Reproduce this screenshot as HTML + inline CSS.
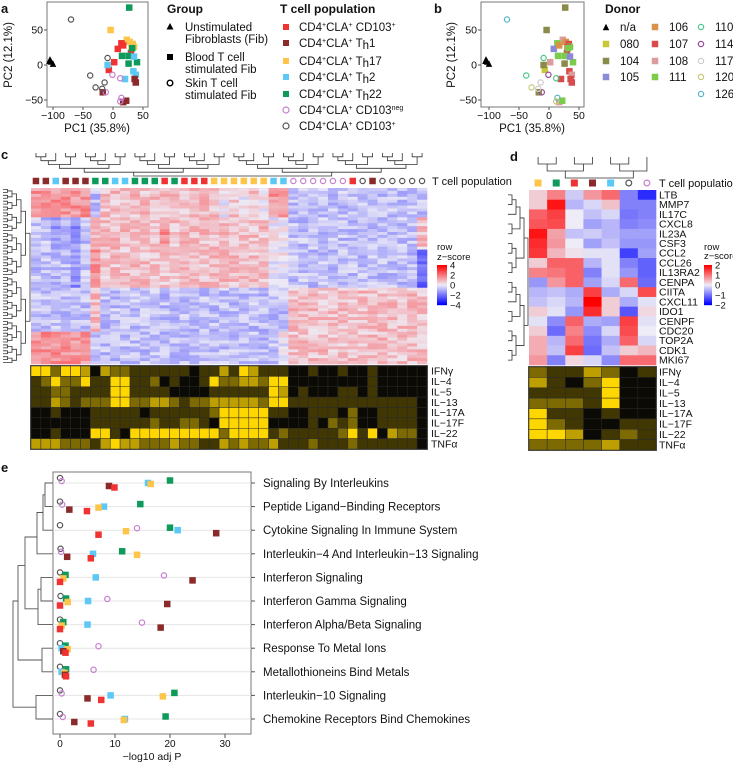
<!DOCTYPE html>
<html><head><meta charset="utf-8">
<style>
html,body{margin:0;padding:0;background:#fff;}
svg{display:block;font-family:"Liberation Sans",sans-serif;}
text{fill:#111;}
</style></head>
<body>
<svg id="fig" width="733" height="763" viewBox="0 0 733 763" xmlns="http://www.w3.org/2000/svg">
<text x="1" y="13" font-size="13" font-weight="bold">a</text>
<text x="434" y="13" font-size="13" font-weight="bold">b</text>
<text x="1" y="159" font-size="13" font-weight="bold">c</text>
<text x="510" y="161" font-size="13" font-weight="bold">d</text>
<text x="1" y="472" font-size="13" font-weight="bold">e</text>

<g id="pa">
<rect x="47" y="2" width="101" height="105" fill="none" stroke="#777" stroke-width="1"/>
<text x="12" y="55" font-size="11.5" text-anchor="middle" transform="rotate(-90 12 55)">PC2 (12.1%)</text>
<text x="97" y="132" font-size="11.5" text-anchor="middle">PC1 (35.8%)</text>
</g>
<g font-size="11.5">
<text x="167" y="13" font-size="12" font-weight="bold">Group</text>
<polygon points="170,23 166.5,29.5 173.5,29.5" fill="#000"/>
<text x="185" y="31">Unstimulated</text>
<text x="185" y="43">Fibroblasts (Fib)</text>
<rect x="167" y="54" width="6" height="6" fill="#000"/>
<text x="185" y="61">Blood T cell</text>
<text x="185" y="73">stimulated Fib</text>
<circle cx="170" cy="83" r="2.8" fill="none" stroke="#000" stroke-width="1.4"/>
<text x="185" y="87">Skin T cell</text>
<text x="185" y="99">stimulated Fib</text>
</g>
<g font-size="11.5">
<text x="280" y="13" font-size="12" font-weight="bold">T cell population</text>
<rect x="283" y="24" width="6" height="6" fill="#f03232"/>
<text x="299" y="31">CD4<tspan dy="-4" font-size="7">+</tspan><tspan dy="4">CLA</tspan><tspan dy="-4" font-size="7">+</tspan><tspan dy="4"> CD103</tspan><tspan dy="-4" font-size="7">+</tspan></text>
<rect x="283" y="40" width="6" height="6" fill="#8b2a2a"/>
<text x="299" y="47">CD4<tspan dy="-4" font-size="7">+</tspan><tspan dy="4">CLA</tspan><tspan dy="-4" font-size="7">+</tspan><tspan dy="4"> T</tspan><tspan dy="2">h</tspan><tspan dy="-2">1</tspan></text>
<rect x="283" y="58" width="6" height="6" fill="#ffc44a"/>
<text x="299" y="65">CD4<tspan dy="-4" font-size="7">+</tspan><tspan dy="4">CLA</tspan><tspan dy="-4" font-size="7">+</tspan><tspan dy="4"> T</tspan><tspan dy="2">h</tspan><tspan dy="-2">17</tspan></text>
<rect x="283" y="74" width="6" height="6" fill="#5bc8f5"/>
<text x="299" y="81">CD4<tspan dy="-4" font-size="7">+</tspan><tspan dy="4">CLA</tspan><tspan dy="-4" font-size="7">+</tspan><tspan dy="4"> T</tspan><tspan dy="2">h</tspan><tspan dy="-2">2</tspan></text>
<rect x="283" y="91" width="6" height="6" fill="#0e9a5a"/>
<text x="299" y="98">CD4<tspan dy="-4" font-size="7">+</tspan><tspan dy="4">CLA</tspan><tspan dy="-4" font-size="7">+</tspan><tspan dy="4"> T</tspan><tspan dy="2">h</tspan><tspan dy="-2">22</tspan></text>
<circle cx="286" cy="110" r="3" fill="none" stroke="#c77fd0" stroke-width="1.2"/>
<text x="299" y="114">CD4<tspan dy="-4" font-size="7">+</tspan><tspan dy="4">CLA</tspan><tspan dy="-4" font-size="7">+</tspan><tspan dy="4"> CD103</tspan><tspan dy="-4" font-size="7">neg</tspan></text>
<circle cx="286" cy="126" r="3" fill="none" stroke="#555" stroke-width="1.2"/>
<text x="299" y="130">CD4<tspan dy="-4" font-size="7">+</tspan><tspan dy="4">CLA</tspan><tspan dy="-4" font-size="7">+</tspan><tspan dy="4"> CD103</tspan><tspan dy="-4" font-size="7">+</tspan></text>
</g>

<g id="pb">
<rect x="481" y="2" width="103" height="105" fill="none" stroke="#777" stroke-width="1"/>
<text x="455" y="55" font-size="11.5" text-anchor="middle" transform="rotate(-90 455 55)">PC2 (12.1%)</text>
<text x="532" y="132" font-size="11.5" text-anchor="middle">PC1 (35.8%)</text>
</g>
<g id="donorLegend" font-size="11.5">
<text x="605" y="13" font-size="12" font-weight="bold">Donor</text>
</g>

<g id="pc"></g>
<g id="pd"></g>
<g id="pe">
<rect x="53" y="472" width="198" height="262" fill="none" stroke="#777" stroke-width="1"/>
<text x="152" y="760" font-size="10.5" text-anchor="middle">−log10 adj P</text>
</g>
</svg>
<script>
// ---------------- DATA ----------------
const popColors = {R:'#f03232',B:'#8b2a2a',Y:'#ffc44a',L:'#5bc8f5',G:'#0e9a5a',P:'#c77fd0',K:'#555555'};
const pcaPC1 = [-105,-103,-100,-106, 27,-4,23,28,33,35,31, 14,8,17,30,2,-7, 15,26,26,40,32, -9,20,34,38,35, 36,38,17,22,-17, -1,12,14,12,-12, -70,-9,-38,-14,-29,-18];
const pcaPC2 = [8,5,2,6, 82,50,36,33,30,26,25, 31,23,28,17,4,-7, 13,13,2,4,24, 0,-20,-9,-14,12, -20,-25,-53,-51,-39, -14,-19,-47,-52,-39, 65,10,-15,-25,-32,-34];
const pcaPop = ['T','T','T','T','G','Y','Y','Y','Y','Y','Y','R','R','R','R','R','R','G','G','G','G','G','L','L','L','L','L','B','B','B','B','B','P','P','P','P','P','K','K','K','K','K','K'];
const pcaDonor = ['na','na','na','na','104','104','108','106','107','111','107','111','105','106','107','108','080','111','111','104','111','111','104','107','107','108','105','107','107','108','111','104','114','110','126','120','114','126','110','110','117','120','117'];
const donorIds = ['n/a','080','104','105','106','107','108','111','110','114','117','120','126'];
const donorColors = {'na':'#000','080':'#c8c83a','104':'#8a8a4a','105':'#8a8ad8','106':'#d9924a','107':'#d94a4a','108':'#dc9c9c','111':'#7acc4a','110':'#4ac88a','114':'#9a4a9a','117':'#cccccc','120':'#c8c87a','126':'#5ab8c8'};
const pcXTicks = [-100,-50,0,50];
const pcYTicks = [50,0,-50];

const cCols = ['B','B','L','B','B','B','G','G','L','L','G','G','G','R','G','R','R','R','Y','Y','Y','Y','Y','Y','L','L','P','P','P','P','P','P','R','K','B','K','K','K','K','K'];
const cBandRows = [10,11,13,15,11];
const cBandA = "6666663"+"55555555555"+"545454"+"66"+"33333333333333";
const cBandB = "332323"+"5"+"55555565555555555"+"44"+"33333333333335";
const cBandC = "333323"+"6"+"55555555555555555"+"44"+"33333333333331";
const cBandD = "333333"+"5"+"33333333333333333"+"33"+"55555555555555";
const cBandE = "666666"+"3"+"33333333333333333"+"34"+"55555555555555";
const cCytoNames = ['IFNγ','IL−4','IL−5','IL−13','IL−17A','IL−17F','IL−22','TNFα'];
const cIFNg  = [4,4,2,4,4,3,0,3,2,2,1,1,1,1,1,1,0,1,1,3,1,4, 3,1,1,1,0,0,1,0,0,1,0,0,1,0,0,0,0,0];
const cIL4   = [1,2,4,2,2,4,1,1,4,4,1,1,2,0,1,0,0,1,4,2,2,3, 3,2,4,4,0,0,0,0,0,0,0,0,1,0,0,0,0,0];
const cIL5   = [1,1,2,2,1,1,1,1,4,4,1,1,1,1,0,0,0,0,1,1,1,1, 1,1,4,3,0,1,0,0,0,1,1,0,1,0,0,0,0,0];
const cIL13  = [1,1,3,2,1,2,2,2,4,4,2,2,3,3,2,1,2,2,3,3,3,3, 3,2,4,4,1,1,1,1,1,1,1,1,1,1,1,1,1,0];
const cIL17A = [0,0,1,0,0,0,1,1,1,1,1,0,1,1,1,1,1,1,2,4,4,4, 4,4,1,1,0,0,1,1,1,0,2,0,0,1,1,1,1,0];
const cIL17F = [0,0,0,0,0,0,1,1,1,1,1,1,2,1,1,2,2,1,0,4,4,4, 4,4,0,0,0,0,1,0,2,1,2,0,0,1,1,1,1,0];
const cIL22  = [0,0,1,0,0,0,4,4,1,0,4,4,4,4,4,4,4,4,4,2,4,4, 4,4,1,2,1,1,1,1,1,2,4,1,4,0,3,2,2,0];
const cTNFa  = [3,3,3,2,2,2,1,3,4,3,3,2,2,2,3,2,2,1,1,3,2,3, 2,2,3,1,1,1,2,1,1,1,2,1,1,1,1,1,1,0];
const cZTicks = [4,2,0,-2,-4];

const dCols = ['Y','G','R','B','L','K','P'];
const dGenes = ['LTB','MMP7','IL17C','CXCL8','IL23A','CSF3','CCL2','CCL26','IL13RA2','CENPA','CIITA','CXCL11','IDO1','CENPF','CDC20','TOP2A','CDK1','MKI67'];
const dLTB=[0.3,1,-0.3,0.8,1.2,-1,-1.8], dMMP7=[0.3,2,-0.5,-0.2,0.4,-1,-1], dIL17C=[1.3,1.6,0,-0.4,-0.2,-1.1,-1];
const dCXCL8=[1.4,1.5,0,-0.7,-0.5,-1,-0.9], dIL23A=[2,0.7,-0.4,-0.3,-0.5,-0.7,-0.7], dCSF3=[1.8,0.8,0,-0.7,-0.4,-0.8,-0.8];
const dCCL2=[1.7,0.5,0.1,-0.1,-0.1,-1.6,-0.7], dCCL26=[0.3,1.3,1.3,-0.5,-0.1,-1,-1.3], dIL13RA2=[1,1.1,1.3,-1,-0.1,-0.8,-1.3];
const dCENPA=[-0.8,0.8,1.3,-0.7,-0.2,1.2,-1.2], dCIITA=[-0.5,-0.4,-0.6,1.6,-0.6,-0.2,1.5], dCXCL11=[-0.4,-0.2,-0.5,2.2,0.3,-0.6,-0.1];
const dIDO1=[0.3,-0.1,-0.8,1.8,0.3,-1.4,0.2], dCENPF=[-0.1,-0.9,1.3,-0.6,-0.7,1.6,-0.1], dCDC20=[0.3,-1.2,1,-0.9,-0.2,1.5,0];
const dTOP2A=[0.6,-0.5,1.2,-1.1,-0.6,1.3,-0.2], dCDK1=[0.6,-0.4,1.6,-1.2,-0.4,0.3,0.5], dMKI67=[0.8,-1,0.2,-0.2,-0.9,1.2,1.2];
const dIFNg=[2,1,1,3,2,0,1], dIL4=[3,1,0,2,4,0,0], dIL5=[1,1,1,1,4,0,0], dIL13=[2,2,2,1,4,0,0];
const dIL17A=[4,1,1,0,1,0,0], dIL17F=[4,2,1,0,0,1,1], dIL22=[4,4,3,0,1,2,1], dTNFa=[2,2,2,2,3,1,1];
const dZTicks = [2,1,0,-1,-2];

const ePathways = ['Signaling By Interleukins','Peptide Ligand−Binding Receptors','Cytokine Signaling In Immune System','Interleukin−4 And Interleukin−13 Signaling','Interferon Signaling','Interferon Gamma Signaling','Interferon Alpha/Beta Signaling','Response To Metal Ions','Metallothioneins Bind Metals','Interleukin−10 Signaling','Chemokine Receptors Bind Chemokines'];
const ePopOrder = ['K','P','G','L','Y','B','R'];
const eGrey   = [0,0,0,0.1,0,0.1,0,0,0,0,0];
const ePink   = [0.3,0.4,14,0.2,18.9,8.6,14.9,7,6.1,0.3,0.5];
const eGreen  = [20,14.6,20,11.3,1,1.1,0.6,1,1.1,20.8,19.2];
const eBlue   = [16,8,21.4,6,6.5,5.1,5,0.3,0.3,9.2,11.8];
const eYellow = [16.5,7,12,14,0.6,1.4,0.3,1.4,0.8,18.7,11.6];
const eBrown  = [8.9,1.7,28.4,1.3,24.1,19.5,18.3,0.6,0.9,5,2.6];
const eRed    = [9.9,4.9,7,5.6,0,0,0,1,1.1,7.5,5.6];
const eXTicks = [0,10,20,30];

// ---------------- DRAW ----------------
const NS='http://www.w3.org/2000/svg';
function mk(tag,attrs,parent){const e=document.createElementNS(NS,tag);for(const k in attrs)e.setAttribute(k,attrs[k]);parent.appendChild(e);return e;}
function marker(parent,type,color,x,y,s){
  let el;
  if(type==='sq') el=mk('rect',{x:x-s/2,y:y-s/2,width:s,height:s,fill:color},parent);
  else if(type==='circ') el=mk('circle',{cx:x,cy:y,r:s/2-0.6,fill:'none',stroke:color,'stroke-width':1.2},parent);
  else el=mk('polygon',{points:`${x},${y-s/2} ${x-s/2},${y+s/2} ${x+s/2},${y+s/2}`,fill:color},parent);
  return el;
}
function popType(p){return p==='T'?'tri':(p==='P'||p==='K')?'circ':'sq';}

function pcaPanel(gid,x0,frameL,colorFn,typeFn){
  const g=document.getElementById(gid);
  const sx=v=>x0+0.6*v, sy=v=>65-0.7*v;
  pcXTicks.forEach(t=>{
    const l=mk('line',{x1:sx(t),x2:sx(t),y1:107,y2:110,stroke:'#555'},g);
    
    
    const tx=mk('text',{x:sx(t),y:119,'font-size':10.5,'text-anchor':'middle'},g);tx.textContent=t===0?'0':(t<0?'−'+(-t):t);
    
    
  });
  pcYTicks.forEach(t=>{
    const l=mk('line',{x1:frameL-3,x2:frameL,y1:sy(t),y2:sy(t),stroke:'#555'},g);
    
    
    const tx=mk('text',{x:frameL-4,y:sy(t)+3.5,'font-size':10.5,'text-anchor':'end'},g);tx.textContent=t===0?'0':(t<0?'−'+(-t):t);
    
    
  });
  pcaPC1.forEach((v,i)=>{
    const m=marker(g,typeFn(i),colorFn(i),sx(v),sy(pcaPC2[i]),6.5);
    
    
  });
}
pcaPanel('pa',113,47,i=>pcaPop[i]==='T'?'#000':popColors[pcaPop[i]],i=>popType(pcaPop[i]));
pcaPanel('pb',549,481,i=>donorColors[pcaDonor[i]],i=>popType(pcaPop[i]));

(function(){
  const g=document.getElementById('donorLegend');
  const cols=[[0,1,2,3],[4,5,6,7],[8,9,10,11,12]];
  const cx=[606,655,701], ys=[27,44,61,77,94];
  cols.forEach((c,ci)=>c.forEach((di,ri)=>{
    const id=donorIds[di], key=id==='n/a'?'na':id;
    const t= key==='na'?'tri':(ci===2?'circ':'sq');
    const m=marker(g,t,donorColors[key],cx[ci],ys[ri],6.5);
    
    
    const tx=mk('text',{x:cx[ci]+14,y:ys[ri]+4},g);tx.textContent=id;
    
    
  }));
})();

function zColor(z,max){
  const t=Math.max(-1,Math.min(1,z/max));
  const w=[238,236,246];
  let c;
  if(t>=0) c=[w[0]+(255-w[0])*t, w[1]*(1-t), w[2]*(1-t)];
  else {const u=-t; c=[w[0]*(1-u), w[1]*(1-u), w[2]+(255-w[2])*u];}
  return `rgb(${c.map(Math.round).join(',')})`;
}
function yColor(v){
  const t=v/4;
  const a=[12,10,4], b=[255,215,0];
  return `rgb(${a.map((x,i)=>Math.round(x+(b[i]-x)*Math.pow(t,1.1))).join(',')})`;
}
function dendro(g,n,posFn,base,tip,horizontal){
  let maxH=0;
  const nodes=[];
  function build(a,b){
    if(a===b) return {p:posFn(a),h:0};
    const m=Math.floor((a+b)/2);
    const L=build(a,m),R=build(m+1,b);
    const h=Math.max(L.h,R.h)+1;
    nodes.push([L,R,h]);
    maxH=Math.max(maxH,h);
    return {p:(L.p+R.p)/2,h};
  }
  build(0,n-1);
  const sc=h=>tip+(base-tip)*(h/maxH);
  nodes.forEach(([L,R,h])=>{
    let d;
    if(!horizontal) d=`M${L.p},${sc(L.h)}V${sc(h)}H${R.p}V${sc(R.h)}`;
    else d=`M${sc(L.h)},${L.p}H${sc(h)}V${R.p}H${sc(R.h)}`;
    const p=mk('path',{d,fill:'none',stroke:'#333','stroke-width':0.8},g);
    
    
  });
}

(function(){
  const g=document.getElementById('pc');
  const x0=31,x1=427,y0=188,y1=364,n=cCols.length,cw=(x1-x0)/n;
  const bands=[cBandA,cBandB,cBandC,cBandD,cBandE];
  const totalRows=cBandRows.reduce((a,b)=>a+b,0), rh=(y1-y0)/totalRows;
  let r=0;
  bands.forEach((band,bi)=>{
    for(let k=0;k<cBandRows[bi];k++,r++){
      for(let c=0;c<n;c++){
        const base=(parseInt(band[c])-4)*0.75;
        const texture=Math.sin(r*12.9898+c*78.233)*43758.5453; const tx=(texture-Math.floor(texture)-0.5)*1.3;
        const cell=mk('rect',{x:x0+c*cw,y:y0+r*rh,width:cw+0.3,height:rh+0.3,fill:zColor(base+tx,4)},g);
        
        
      }
    }
  });
  const cyto=[cIFNg,cIL4,cIL5,cIL13,cIL17A,cIL17F,cIL22,cTNFa];
  const cy0=366, ch=(449-366)/8;
  const bg=mk('rect',{x:x0-1,y:cy0-1,width:x1-x0+2,height:ch*8+2,fill:'#555'},g);
  
  
  cyto.forEach((row,ri)=>{
    row.forEach((v,c)=>{
      const cell=mk('rect',{x:x0+c*cw,y:cy0+ri*ch,width:cw,height:ch,fill:yColor(v),stroke:'#2a2a2a','stroke-width':0.5},g);
      
      
    });
    const t=mk('text',{x:x1+4,y:cy0+ri*ch+ch/2+3.5,'font-size':10.5},g);t.textContent=cCytoNames[ri];
    
    
  });
  cCols.forEach((p,c)=>{
    const m=marker(g,popType(p),popColors[p],x0+c*cw+cw/2,181,6.5);
    
    
  });
  const tl=mk('text',{x:432,y:185,'font-size':11},g);tl.textContent='T cell population';
  
  
  dendro(g,n,i=>x0+i*cw+cw/2,176,153,false);
  dendro(g,totalRows,i=>y0+i*rh+rh/2,30,3,true);
  const l1=mk('text',{x:437,y:250,'font-size':9.5},g);l1.textContent='row';
  
  
  const l2=mk('text',{x:437,y:260,'font-size':9.5},g);l2.textContent='z−score';
  
  
  for(let i=0;i<40;i++){
    const z=4-8*i/39;
    const s=mk('rect',{x:437,y:265+i,width:10,height:1.2,fill:zColor(z,4)},g);
    
    
  }
  cZTicks.forEach(t=>{
    const tx=mk('text',{x:450,y:265+(4-t)/8*40+3.5,'font-size':9.5},g);tx.textContent=t<0?'−'+(-t):t;
    
    
  });
})();

(function(){
  const g=document.getElementById('pd');
  const x0=529,x1=656,y0=190,y1=365,n=dCols.length,cw=(x1-x0)/n;
  const rows=[dLTB,dMMP7,dIL17C,dCXCL8,dIL23A,dCSF3,dCCL2,dCCL26,dIL13RA2,dCENPA,dCIITA,dCXCL11,dIDO1,dCENPF,dCDC20,dTOP2A,dCDK1,dMKI67];
  const rh=(y1-y0)/rows.length;
  rows.forEach((row,ri)=>{
    row.forEach((v,c)=>{
      const cell=mk('rect',{x:x0+c*cw,y:y0+ri*rh,width:cw+0.3,height:rh+0.3,fill:zColor(v,2.2)},g);
      
      
    });
    const t=mk('text',{x:x1+3,y:y0+ri*rh+rh/2+3.5,'font-size':10.5},g);t.textContent=dGenes[ri];
    
    
  });
  const cyto=[dIFNg,dIL4,dIL5,dIL13,dIL17A,dIL17F,dIL22,dTNFa];
  const cy0=367,ch=(450-367)/8;
  const bg=mk('rect',{x:x0-1,y:cy0-1,width:x1-x0+2,height:ch*8+2,fill:'#555'},g);
  
  
  cyto.forEach((row,ri)=>{
    row.forEach((v,c)=>{
      const cell=mk('rect',{x:x0+c*cw,y:cy0+ri*ch,width:cw,height:ch,fill:yColor(v),stroke:'#2a2a2a','stroke-width':0.5},g);
      
      
    });
    const t=mk('text',{x:x1+3,y:cy0+ri*ch+ch/2+3.5,'font-size':10.5},g);t.textContent=cCytoNames[ri];
    
    
  });
  dCols.forEach((p,c)=>{
    const m=marker(g,popType(p),popColors[p],x0+c*cw+cw/2,183,7);
    
    
  });
  const tl=mk('text',{x:659,y:187,'font-size':11},g);tl.textContent='T cell population';
  
  
  dendro(g,n,i=>x0+i*cw+cw/2,178,157,false);
  dendro(g,rows.length,i=>y0+i*rh+rh/2,528,508,true);
  const l1=mk('text',{x:704,y:250,'font-size':9.5},g);l1.textContent='row';
  
  
  const l2=mk('text',{x:704,y:259,'font-size':9.5},g);l2.textContent='z−score';
  
  
  for(let i=0;i<40;i++){
    const z=2-4*i/39;
    const s=mk('rect',{x:704,y:265+i,width:8,height:1.2,fill:zColor(z,2)},g);
    
    
  }
  dZTicks.forEach(t=>{
    const tx=mk('text',{x:715,y:265+(2-t)/4*40+3.5,'font-size':9.5},g);tx.textContent=t<0?'−'+(-t):t;
    
    
  });
})();

(function(){
  const g=document.getElementById('pe');
  const sx=v=>60+5.5*v, rowY=i=>483+i*23.6;
  const series={K:eGrey,P:ePink,G:eGreen,L:eBlue,Y:eYellow,B:eBrown,R:eRed};
  const offs={K:-5,P:-2,G:-2.5,L:0,Y:1,B:3,R:4.5};
  ePathways.forEach((name,i)=>{
    const gl=mk('line',{x1:53,x2:251,y1:rowY(i),y2:rowY(i),stroke:'#e4e4e4','stroke-width':1},g);
    
    
    const tk=mk('line',{x1:251,x2:255,y1:rowY(i),y2:rowY(i),stroke:'#555'},g);
    
    
    const t=mk('text',{x:263,y:rowY(i)+4,'font-size':11.5},g);t.textContent=name;
    
    
  });
  eXTicks.forEach(t=>{
    const l=mk('line',{x1:sx(t),x2:sx(t),y1:734,y2:738,stroke:'#555'},g);
    
    
    const tx=mk('text',{x:sx(t),y:747,'font-size':10,'text-anchor':'middle'},g);tx.textContent=t;
    
    
  });
  ePathways.forEach((_,i)=>{
    ePopOrder.forEach(p=>{
      const m=marker(g,popType(p),popColors[p],sx(series[p][i]),rowY(i)+offs[p],6.5);
      
      
    });
  });
  const Y=i=>rowY(i);
  const links=[
    `M53,${Y(0)}H45V${Y(1)}H53`,
    `M45,${(Y(0)+Y(1))/2}H43V${Y(2)}H53`,
    `M43,${(Y(0)+Y(1))/4+Y(2)/2}H37V${Y(3)}H53`,
    `M53,${Y(4)}H41V${Y(5)}H53`,
    `M41,${(Y(4)+Y(5))/2}H38V${Y(6)}H53`,
    `M37,${(Y(2)+Y(3))/2-5}H25V${(Y(5)+Y(6))/2-4}H38`,
    `M53,${Y(7)}H42V${Y(8)}H53`,
    `M25,${(Y(2)+Y(5))/2}H18V${(Y(7)+Y(8))/2}H42`,
    `M53,${Y(9)}H36V${Y(10)}H53`,
    `M18,${(Y(3)+Y(7))/2}H13V${(Y(9)+Y(10))/2}H36`
  ];
  links.forEach(d=>{
    const p=mk('path',{d,fill:'none',stroke:'#555','stroke-width':0.9},g);
    
    
  });
})();
</script>
</body></html>
